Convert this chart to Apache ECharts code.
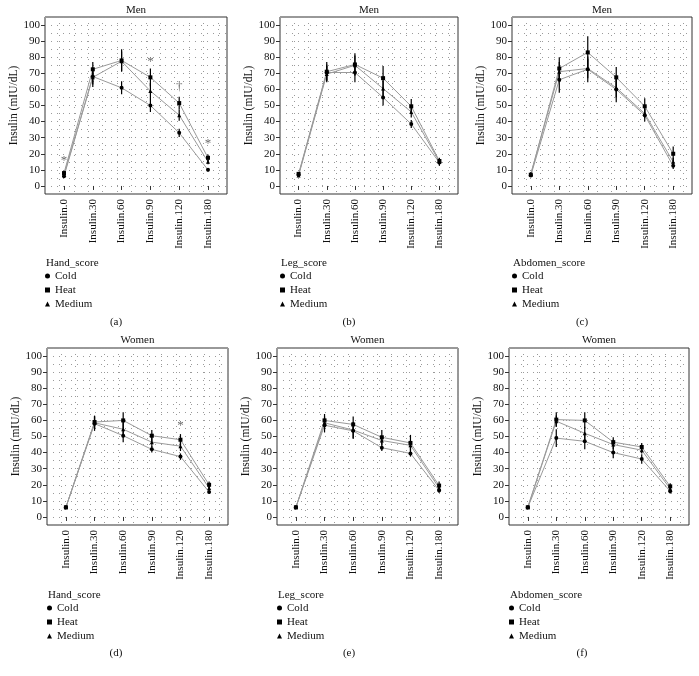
<!DOCTYPE html>
<html><head><meta charset="utf-8">
<script src="https://cdn.jsdelivr.net/npm/echarts@6/dist/echarts.min.js"></script>
<style>html,body{margin:0;padding:0;background:#fff}#c{width:699px;height:676px}</style>
</head><body><div id="c"></div>
<script>
// ---------- data ----------
const categories = ['Insulin.0','Insulin.30','Insulin.60','Insulin.90','Insulin.120','Insulin.180'];
const yTicks = [0,10,20,30,40,50,60,70,80,90,100];
const groups = ['Cold','Heat','Medium'];

// Men, Hand_score
const menHandCold   = [6, 68, 61, 50, 33, 10];
const menHandHeat   = [8, 72.5, 78, 67.5, 51.5, 17.5];
const menHandMedium = [7, 67.5, 77.5, 59, 44, 15];
const menHandColdErr   = [1, 5, 4, 4, 2.5, 1];
const menHandHeatErr   = [1.5, 4.5, 7, 5.5, 4, 2];
const menHandMediumErr = [1, 6, 6, 5, 3.5, 1.5];
const menHandMarks = [[1, 16, '*'], [4, 77, '*'], [5, 61.5, '†'], [6, 26.5, '*']];

// Men, Leg_score
const menLegCold   = [7, 70.5, 70.5, 55, 38.5, 14.5];
const menLegHeat   = [7.5, 71, 75.5, 67, 49.5, 15.5];
const menLegMedium = [6.5, 69.5, 75, 60.5, 46, 15];
const menLegColdErr   = [1, 5, 6, 5, 2.5, 2];
const menLegHeatErr   = [1, 6, 7, 7.5, 4.5, 2];
const menLegMediumErr = [1, 5, 6, 5, 3.5, 2];
const menLegMarks = [];

// Men, Abdomen_score
const menAbdCold   = [6.5, 66, 72.5, 60, 44, 12.5];
const menAbdHeat   = [7, 73, 83, 67.5, 49.5, 20];
const menAbdMedium = [7.5, 71, 73, 61, 45, 15];
const menAbdColdErr   = [1, 8, 8, 8, 4, 2];
const menAbdHeatErr   = [1, 7, 10, 6.5, 5, 4.5];
const menAbdMediumErr = [1, 6, 6, 6, 3, 2.5];
const menAbdMarks = [];

// Women, Hand_score
const womenHandCold   = [6, 58, 50.5, 42, 37.5, 15.5];
const womenHandHeat   = [6, 59, 60, 50.5, 48, 20];
const womenHandMedium = [6, 58.5, 54.5, 46.5, 44, 18];
const womenHandColdErr   = [0.5, 4.5, 4, 2, 2, 1];
const womenHandHeatErr   = [0.5, 4, 5, 3.5, 3.5, 2];
const womenHandMediumErr = [0.5, 4, 5, 3, 3, 1.5];
const womenHandMarks = [[5, 57, '*']];

// Women, Leg_score
const womenLegCold   = [6, 57, 53.5, 43, 39.5, 16.5];
const womenLegHeat   = [6, 60, 57.5, 49.5, 46, 19.5];
const womenLegMedium = [6, 58.5, 54, 47.5, 44.5, 18];
const womenLegColdErr   = [0.5, 4.5, 5, 2, 2, 1.5];
const womenLegHeatErr   = [0.5, 4, 5, 4.5, 5, 2.5];
const womenLegMediumErr = [0.5, 4, 5, 3, 3, 2];
const womenLegMarks = [];

// Women, Abdomen_score
const womenAbdCold   = [6, 49, 47, 40, 36, 16];
const womenAbdHeat   = [6, 60.5, 60, 46.5, 43.5, 19];
const womenAbdMedium = [6, 59.5, 52, 45, 41.5, 17.5];
const womenAbdColdErr   = [0.5, 5.5, 5, 3.5, 3, 1.5];
const womenAbdHeatErr   = [0.5, 4.5, 5, 3, 2.5, 2];
const womenAbdMediumErr = [0.5, 3.5, 4, 3, 2, 1.5];
const womenAbdMarks = [];

const panelData = [
  {title:'Men',   score:'Hand_score',    cap:'(a)', vals:[menHandCold, menHandHeat, menHandMedium], errs:[menHandColdErr, menHandHeatErr, menHandMediumErr], marks: menHandMarks},
  {title:'Men',   score:'Leg_score',     cap:'(b)', vals:[menLegCold, menLegHeat, menLegMedium], errs:[menLegColdErr, menLegHeatErr, menLegMediumErr], marks: menLegMarks},
  {title:'Men',   score:'Abdomen_score', cap:'(c)', vals:[menAbdCold, menAbdHeat, menAbdMedium], errs:[menAbdColdErr, menAbdHeatErr, menAbdMediumErr], marks: menAbdMarks},
  {title:'Women', score:'Hand_score',    cap:'(d)', vals:[womenHandCold, womenHandHeat, womenHandMedium], errs:[womenHandColdErr, womenHandHeatErr, womenHandMediumErr], marks: womenHandMarks},
  {title:'Women', score:'Leg_score',     cap:'(e)', vals:[womenLegCold, womenLegHeat, womenLegMedium], errs:[womenLegColdErr, womenLegHeatErr, womenLegMediumErr], marks: womenLegMarks},
  {title:'Women', score:'Abdomen_score', cap:'(f)', vals:[womenAbdCold, womenAbdHeat, womenAbdMedium], errs:[womenAbdColdErr, womenAbdHeatErr, womenAbdMediumErr], marks: womenAbdMarks}
];

// ---------- layout ----------
const layout = [
  {left:45,  top:17,  width:182, height:177, capX:116, row:0},
  {left:280, top:17,  width:178, height:177, capX:349, row:0},
  {left:512, top:17,  width:180, height:177, capX:582, row:0},
  {left:47,  top:348, width:181, height:177, capX:116, row:1},
  {left:277, top:348, width:181, height:177, capX:349, row:1},
  {left:509, top:348, width:180, height:177, capX:582, row:1}
];
const rowY = [
  {title:10,  head:263, legTop:269, cap:322},
  {title:340, head:595, legTop:601, cap:653}
];
const FONT = '"Liberation Serif", "DejaVu Serif", serif';
const XMIN = 0.34, XMAX = 6.66;
const symbols = ['circle','rect','triangle'];

const grid = [], xAxis = [], yAxis = [], series = [], legend = [], graphic = [];
panelData.forEach((p, i) => {
  const L = layout[i], R = rowY[L.row];
  grid.push({left:L.left, top:L.top, width:L.width, height:L.height, show:true, borderColor:'#333', borderWidth:1, backgroundColor:'transparent'});
  // visible axes
  xAxis.push({type:'value', gridIndex:i, min:XMIN, max:XMAX,
    axisLine:{show:false}, splitLine:{show:false},
    axisTick:{show:true, length:4, lineStyle:{color:'#333'}, customValues:[1,2,3,4,5,6]},
    axisLabel:{show:true, rotate:90, margin:5, fontFamily:FONT, fontSize:11, color:'#111', customValues:[1,2,3,4,5,6],
      formatter: v => categories[Math.round(v)-1]}
  });
  // grid-line axes
  xAxis.push({type:'value', gridIndex:i, min:XMIN, max:XMAX, interval:0.5,
    axisLine:{show:false}, axisTick:{show:false}, axisLabel:{show:false},
    splitLine:{show:true, lineStyle:{color:'#9a9a9a', width:1, type:[1,5]}}});
  yAxis.push({type:'value', gridIndex:i, min:-5, max:105,
    name:'Insulin (mIU/dL)', nameLocation:'middle', nameGap:21,
    nameTextStyle:{fontFamily:FONT, fontSize:11.5, color:'#111'},
    axisLine:{show:false}, splitLine:{show:false},
    axisTick:{show:true, length:4, lineStyle:{color:'#333'}, customValues:yTicks},
    axisLabel:{show:true, margin:5, fontFamily:FONT, fontSize:11, color:'#111', customValues:yTicks}
  });
  yAxis.push({type:'value', gridIndex:i, min:-5, max:105, interval:5,
    axisLine:{show:false}, axisTick:{show:false}, axisLabel:{show:false},
    splitLine:{show:true, lineStyle:{color:'#9a9a9a', width:1, type:[1,5]}}});

  groups.forEach((g, k) => {
    series.push({type:'line', name:g, xAxisIndex:2*i, yAxisIndex:2*i,
      data: p.vals[k].map((v, j) => [j+1, v]),
      symbol:symbols[k], symbolSize:4, showSymbol:true,
      color:'#000', itemStyle:{color:'#000'},
      lineStyle:{color:'#9a9a9a', width:1}, z:3, animation:false});
    series.push({type:'custom', name:'err-'+g, xAxisIndex:2*i, yAxisIndex:2*i,
      data: p.vals[k].map((v, j) => [j+1, v - p.errs[k][j], v + p.errs[k][j]]),
      encode:{x:0, y:[1,2]},
      renderItem:(params, api) => {
        const a = api.coord([api.value(0), api.value(1)]);
        const b = api.coord([api.value(0), api.value(2)]);
        return {type:'line', shape:{x1:a[0], y1:a[1], x2:b[0], y2:b[1]}, style:{stroke:'#000', lineWidth:1.2}};
      }, z:4, animation:false});
  });
  if (p.marks.length) {
    series.push({type:'scatter', name:'sig', xAxisIndex:2*i, yAxisIndex:2*i,
      data:p.marks, symbolSize:1, itemStyle:{color:'rgba(0,0,0,0)'},
      label:{show:true, position:'inside', formatter: q => q.data[2], fontFamily:FONT, fontSize:13, color:'#444'},
      z:5, animation:false});
  }
  legend.push({orient:'vertical', left:L.left, top:R.legTop, padding:0, itemGap:0,
    itemWidth:5, itemHeight:5, selectedMode:false,
    data: groups.map((g,k) => ({name:g, icon:symbols[k]})),
    itemStyle:{color:'#000'},
    textStyle:{fontFamily:FONT, fontSize:11, color:'#111', lineHeight:14}});
  graphic.push({type:'text', x:L.left + L.width/2, y:R.title, style:{text:p.title, textAlign:'center', textVerticalAlign:'middle', font:'11px ' + FONT, fill:'#111'}});
  graphic.push({type:'text', x:L.left + 1, y:R.head, style:{text:p.score, textAlign:'left', textVerticalAlign:'middle', font:'11px ' + FONT, fill:'#111'}});
  graphic.push({type:'text', x:L.capX, y:R.cap, style:{text:p.cap, textAlign:'center', textVerticalAlign:'middle', font:'11px ' + FONT, fill:'#111'}});
});

const chart = echarts.init(document.getElementById('c'), null, {renderer:'canvas'});
chart.setOption({animation:false, backgroundColor:'#fff', grid, xAxis, yAxis, series, legend, graphic});
</script></body></html>
